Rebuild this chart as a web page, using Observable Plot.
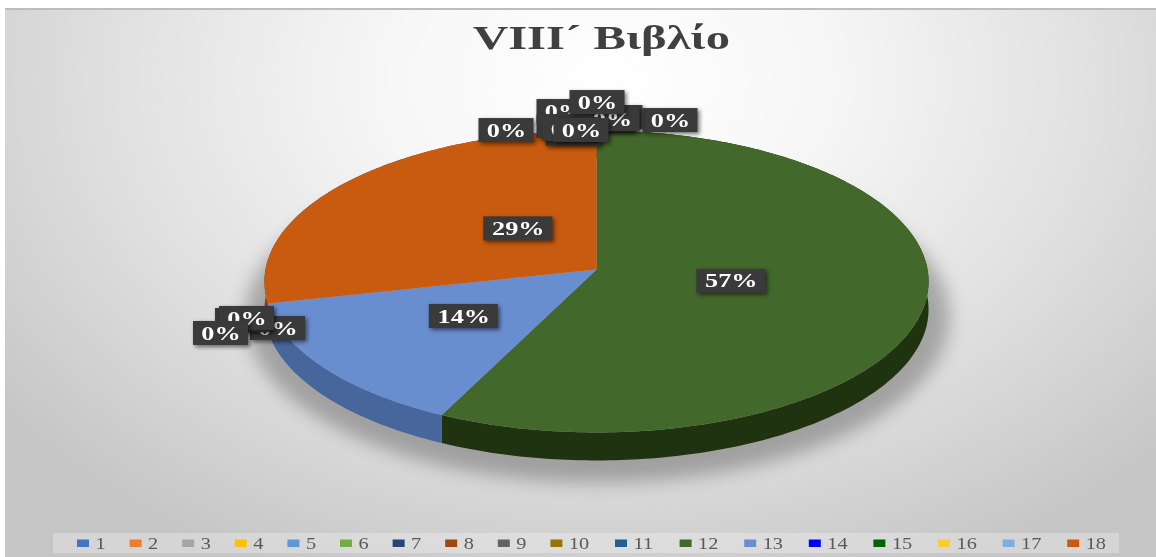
<!DOCTYPE html>
<html>
<head>
<meta charset="utf-8">
<script src="https://cdn.jsdelivr.net/npm/d3@7"></script>
<script src="https://cdn.jsdelivr.net/npm/@observablehq/plot@0.6"></script>
<style>
  html, body { margin: 0; padding: 0; background: #fff; overflow: hidden; }
  #frame { position: absolute; left: 5px; top: 8px; width: 1151px; height: 549px; box-sizing: border-box;
    border-top: 2px solid #bdbdbd;
    background: radial-gradient(ellipse 760px 540px at 600px 70px, #ffffff 0%, #f6f6f6 30%, #e0e0e0 65%, #cfcfcf 88%, #c6c6c6 100%); }
  #chart { position: absolute; left: 0; top: 0; }
  #chart svg { display: block; background: transparent; filter: blur(0.45px); }
</style>
</head>
<body>
<div id="frame"></div>
<div id="chart"></div>
<script>
// ---- data ----
const chartTitle = "VIII\u00b4 \u0392\u03b9\u03b2\u03bb\u03af\u03bf";
const categories = ["1","2","3","4","5","6","7","8","9","10","11","12","13","14","15","16","17","18"];
const counts     = [0,0,0,0,0,0,0,0,0,0,0,4,1,0,0,0,0,2];
const colors     = ["#4472c4","#ed7d31","#a5a5a5","#ffc000","#5b9bd5","#70ad47","#264478","#9e480e","#636363","#997300","#255e91","#43682b","#698ed0","#0000ff","#006400","#ffcd33","#7cafdd","#c85b0f"];
const sideColors = {"12":"#1f3310","13":"#47669b","18":"#8a4010"};

// ---- layout: label nudges from each slice's anchor, in draw order ----
const labelNudges = {
  "1":[-23,4],"2":[11,-10],"3":[19,-13],"4":[-32,-19],"5":[-32,-4],"6":[-90,0],"7":[74,-10],"8":[16,-11],"9":[-26,-1],"10":[1,-28],"11":[-15,0],
  "12":[-28,-5],"13":[0,-1],"14":[10,25],"15":[-25,17],"16":[-21,15],"17":[-47,30],"18":[48,5]
};

// ---- pie geometry: a tilted disc seen in perspective ----
const W = 1156, H = 557;
const cx = 596, cy = 269, rx = 331, ry = 150, k = 0.0795, depth = 28;
function project(theta, r = 1) {
  const X = r * Math.sin(theta), Y = r * Math.cos(theta), d = 1 + k * Y;
  return [cx + rx * X / d, cy - ry * Y / d];
}
const total = d3.sum(counts);
let acc = 0;
const slices = categories.map((cat, i) => {
  const a0 = acc / total * 2 * Math.PI;
  acc += counts[i];
  const a1 = acc / total * 2 * Math.PI;
  return {cat, value: counts[i], a0, a1, share: counts[i] / total};
});
const arc = (s) => {
  const n = Math.max(2, Math.round((s.a1 - s.a0) * 60));
  return d3.range(n + 1).map(j => project(s.a0 + (s.a1 - s.a0) * j / n));
};
const shown = slices.filter(s => s.value > 0);
const facePts = shown.flatMap(s => [[cx, cy], ...arc(s)].map(p => ({x: p[0], y: p[1], cat: s.cat})));
const sideMarks = shown.map(s => {
  const a = arc(s);
  const poly = [...a, ...a.slice().reverse().map(p => [p[0], p[1] + depth])];
  return Plot.line(poly, {x: d => d[0], y: d => d[1], fill: sideColors[s.cat], stroke: "none"});
});
const shadow = d3.range(0, 361, 3).map(t => ({
  x: 597 + 352 * Math.sin(t * Math.PI / 180),
  y: 316 + 166 * Math.cos(t * Math.PI / 180)
}));

// labels
const pct = d3.format(".0%");
const labels = slices.map(s => {
  const mid = (s.a0 + s.a1) / 2;
  const p = project(mid, s.value > 0 ? 0.5 : 1);
  const [dx, dy] = labelNudges[s.cat];
  const text = pct(s.share);
  return {x: p[0] + dx, y: p[1] + dy, text, hw: text.length > 2 ? 34.5 : 27.5};
});
const labelMarks = labels.flatMap(l => [
  Plot.rect([l], {x1: d => d.x - d.hw, x2: d => d.x + d.hw, y1: d => d.y - 12, y2: d => d.y + 12,
    fill: "#3a3a3a", imageFilter: "drop-shadow(2px 2px 2px rgba(0,0,0,.55))"}),
  Plot.text([l], {x: "x", y: "y", text: "text", fill: "#ffffff", fontSize: 19, fontWeight: 700,
    fontFamily: "Liberation Serif", className: "wide-label", lineAnchor: "middle"})
]);

// legend
let lx = 83;
const legend = categories.map((cat, i) => {
  const item = {cat, x: lx};
  lx += cat.length > 1 ? 64.6 : 52.6;
  return item;
});

const plot = Plot.plot({
  width: W, height: H, margin: 0,
  x: {domain: [0, W], range: [0, W], axis: null},
  y: {domain: [0, H], range: [0, H], axis: null},
  color: {domain: categories, range: colors},
  marks: [
    Plot.line(shadow, {x: "x", y: "y", fill: "#000", fillOpacity: 0.27, stroke: "none", imageFilter: "blur(9px)"}),
    ...sideMarks,
    Plot.line(facePts, {x: "x", y: "y", z: "cat", fill: "cat", stroke: "none"}),
    ...labelMarks,
    Plot.text([chartTitle], {x: 601, y: 38, text: d => d, fontSize: 33, fontWeight: 700,
      fontFamily: "Liberation Serif", fill: "#404040", className: "wide-title", lineAnchor: "middle"}),
    Plot.rect([0], {x1: 53, x2: 1119, y1: 533, y2: 553, fill: "#ffffff", fillOpacity: 0.27}),
    Plot.rect(legend, {x1: d => d.x - 6, x2: d => d.x + 6, y1: 539.5, y2: 547, fill: "cat"}),
    Plot.text(legend, {x: d => d.x + 12, y: 543.5, text: "cat", textAnchor: "start", fontSize: 16,
      fontFamily: "Liberation Serif", fill: "#595959", className: "wide-legend", lineAnchor: "middle"})
  ]
});
document.getElementById("chart").append(plot);

// the reference is stretched horizontally: widen the real text to match
const stretch = (cls, f) => plot.querySelectorAll(`.${cls} text`).forEach(t => {
  t.setAttribute("textLength", t.getComputedTextLength() * f);
  t.setAttribute("lengthAdjust", "spacingAndGlyphs");
});
stretch("wide-label", 1.38);
stretch("wide-legend", 1.27);
plot.querySelectorAll(".wide-title text").forEach(t => {
  t.setAttribute("textLength", 257);
  t.setAttribute("lengthAdjust", "spacingAndGlyphs");
});
</script>
</body>
</html>
